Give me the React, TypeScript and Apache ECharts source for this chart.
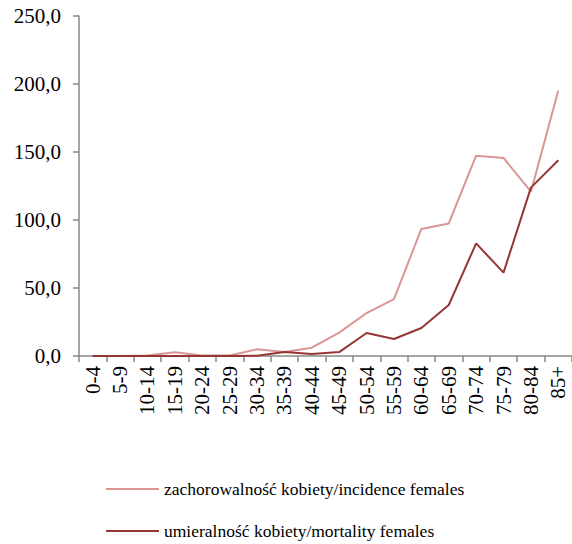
import React, { useEffect, useRef } from "react";
import * as echarts from "echarts";

const categories = ["0-4", "5-9", "10-14", "15-19", "20-24", "25-29", "30-34", "35-39", "40-44", "45-49", "50-54", "55-59", "60-64", "65-69", "70-74", "75-79", "80-84", "85+"];
const incidence = [0, 0, 0.3, 2.7, 0.3, 0.3, 4.9, 2.9, 6.1, 17.2, 31.6, 41.9, 93.4, 97.5, 147.3, 145.6, 120.8, 195.3];
const mortality = [0, 0, 0, 0, 0, 0, 0.2, 2.9, 1.5, 2.9, 16.9, 12.5, 20.6, 37.5, 82.8, 61.3, 123.8, 143.9];
const seriesNames = ["zachorowalność kobiety/incidence females", "umieralność kobiety/mortality females"];

const FONT = "Liberation Serif";

const legendBase = {
  orient: "horizontal",
  left: 106,
  padding: 0,
  itemWidth: 53,
  itemHeight: 2,
  itemGap: 5,
  icon: "rect",
  textStyle: { fontSize: 17.5, fontFamily: FONT, color: "#000" },
};

export default function App() {
  const ref = useRef<HTMLDivElement>(null);
  useEffect(() => {
    if (!ref.current) return;
    const chart = echarts.init(ref.current, null, { renderer: "svg" });
    chart.setOption({
      animation: false,
      backgroundColor: "#ffffff",
      textStyle: { fontFamily: FONT },
      grid: { left: 79, right: 0, top: 16, bottom: 188, containLabel: false },
      legend: [
        { ...legendBase, top: 480, data: [seriesNames[0]] },
        { ...legendBase, top: 522, data: [seriesNames[1]] },
      ],
      xAxis: {
        type: "category",
        data: categories,
        boundaryGap: true,
        axisLine: { lineStyle: { color: "#898989", width: 1.5 } },
        axisTick: { show: true, length: 6, interval: 0, lineStyle: { color: "#898989", width: 1.5 } },
        axisLabel: { rotate: 90, interval: 0, fontSize: 21, fontFamily: FONT, color: "#000", margin: 10 },
      },
      yAxis: {
        type: "value",
        min: 0,
        max: 250,
        interval: 50,
        axisLine: { show: true, lineStyle: { color: "#898989", width: 1.5 } },
        axisTick: { show: true, length: 6, lineStyle: { color: "#898989", width: 1.5 } },
        splitLine: { show: false },
        axisLabel: {
          fontSize: 21,
          fontFamily: FONT,
          color: "#000",
          margin: 18,
          formatter: (v: number) => v.toFixed(1).replace(".", ","),
        },
      },
      series: [
        {
          name: seriesNames[0],
          type: "line",
          data: incidence,
          symbol: "none",
          itemStyle: { color: "#D99694" },
          lineStyle: { color: "#D99694", width: 2 },
        },
        {
          name: seriesNames[1],
          type: "line",
          data: mortality,
          symbol: "none",
          itemStyle: { color: "#943634" },
          lineStyle: { color: "#943634", width: 2 },
        },
      ],
    });
    return () => chart.dispose();
  }, []);
  return <div ref={ref} style={{ position: "fixed", left: 0, top: 0, width: 572, height: 544 }} />;
}
